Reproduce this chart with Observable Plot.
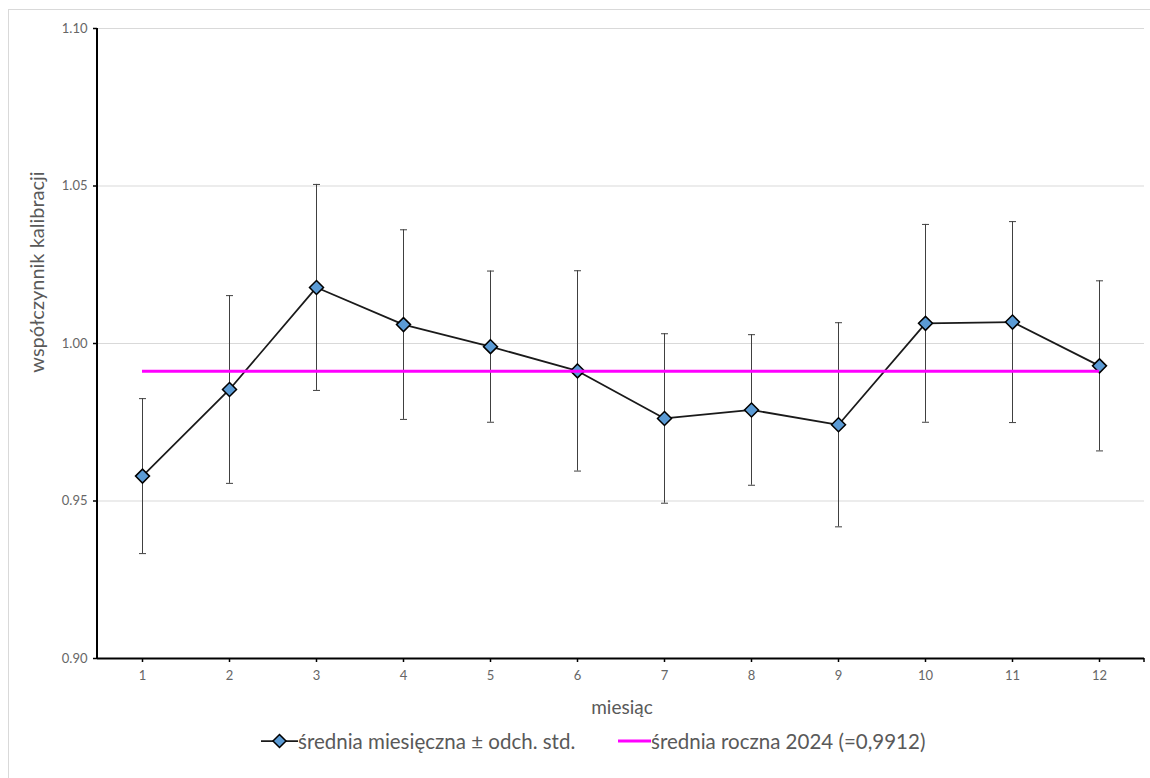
<!DOCTYPE html>
<html>
<head>
<meta charset="utf-8">
<script src="https://cdn.jsdelivr.net/npm/d3@7"></script>
<script src="https://cdn.jsdelivr.net/npm/@observablehq/plot@0.6"></script>
<style>
  html, body { margin: 0; padding: 0; background: #fff; overflow: hidden; width: 1150px; height: 778px; }
  #page { position: relative; width: 1150px; height: 778px; font-family: Lato, "Open Sans", sans-serif; color: #595959; }
  #border { position: absolute; left: 8px; top: 9px; width: 1200px; height: 800px; border: 1px solid #d9d9d9; box-sizing: border-box; }
  #chart { position: absolute; left: 0; top: 0; }
  #ytitle { position: absolute; left: 36px; top: 272px; transform: translate(-50%, -50%) rotate(-90deg); font-size: 20px; white-space: nowrap; }
  #xtitle { position: absolute; left: 622px; top: 706px; transform: translate(-50%, -50%); font-size: 19px; white-space: nowrap; }
  .item { position: absolute; top: 741px; transform: translateY(-50%); display: flex; align-items: center; font-size: 20.5px; white-space: nowrap; }
  .item svg { display: block; }
</style>
</head>
<body>
<div id="page">
  <div id="border"></div>
  <div id="chart"></div>
  <div id="ytitle"></div>
  <div id="xtitle"></div>
  <div id="legend"></div>
</div>
<script>
// ---- data ----
const months = [1, 2, 3, 4, 5, 6, 7, 8, 9, 10, 11, 12];
const monthlyMean = [0.9579, 0.9854, 1.0178, 1.0060, 0.9990, 0.9913, 0.9762, 0.9789, 0.9742, 1.0064, 1.0068, 0.9929];
const monthlySd   = [0.0246, 0.0298, 0.0327, 0.0301, 0.0240, 0.0318, 0.0269, 0.0239, 0.0324, 0.0314, 0.0319, 0.0270];
const annualMean = 0.9912;
const yTicks = [0.90, 0.95, 1.00, 1.05, 1.10];
const yTitle = "współczynnik kalibracji";
const xTitle = "miesiąc";
const seriesName = "średnia miesięczna ± odch. std.";
const annualName = "średnia roczna 2024 (=0,9912)";

const rows = months.map((m, i) => ({m, mean: monthlyMean[i], sd: monthlySd[i]}));

const capSymbol = {
  draw(ctx, size) {
    const w = Math.sqrt(size / Math.PI);
    ctx.moveTo(-w, 0);
    ctx.lineTo(w, 0);
  }
};

const chart = Plot.plot({
  width: 1150,
  height: 720,
  marginTop: 28,
  marginLeft: 97,
  marginRight: 6,
  marginBottom: 62,
  style: {fontFamily: "Lato, 'Open Sans', sans-serif", fontSize: "13px", background: "transparent", overflow: "visible"},
  x: {type: "point", domain: months, padding: 0.5, label: null},
  y: {domain: [0.90, 1.10], label: null},
  marks: [
    Plot.gridY(yTicks.slice(1), {stroke: "#d9d9d9", strokeOpacity: 1, strokeWidth: 1}),
    Plot.axisY(yTicks, {tickFormat: d3.format(".2f"), tickSize: 4, tickPadding: 6, stroke: "black", strokeWidth: 1.5, fill: "#666666", fontSize: 13, label: null}),
    Plot.axisX(months, {tickSize: 4, tickPadding: 8, stroke: "black", strokeWidth: 1.5, fill: "#666666", fontSize: 13, label: null}),
    Plot.ruleY([yTicks[0]], {stroke: "black", strokeWidth: 2}),
    Plot.ruleX(rows, {x: "m", y1: d => d.mean - d.sd, y2: d => d.mean + d.sd, stroke: "#404040", strokeWidth: 1}),
    Plot.dot(rows, {x: "m", y: d => d.mean + d.sd, symbol: capSymbol, r: 3.5, stroke: "#404040", strokeWidth: 1, fill: "none"}),
    Plot.dot(rows, {x: "m", y: d => d.mean - d.sd, symbol: capSymbol, r: 3.5, stroke: "#404040", strokeWidth: 1, fill: "none"}),
    Plot.line(rows, {x: "m", y: "mean", stroke: "#1a1a1a", strokeWidth: 1.75}),
    Plot.dot(rows, {x: "m", y: "mean", symbol: "diamond2", r: 6.3, fill: "#5b9bd5", stroke: "black", strokeWidth: 1.5}),
    Plot.ruleY([annualMean], {x1: months[0], x2: months[months.length - 1], stroke: "#ff00ff", strokeWidth: 3})
  ]
});

// y axis line and end tick, positioned from the library's scales
const xs = chart.scale("x"), ys = chart.scale("y");
const sel = d3.select(chart);
sel.append("line")
  .attr("x1", xs.range[0]).attr("x2", xs.range[0])
  .attr("y1", ys.range[0] + 1).attr("y2", ys.range[1])
  .attr("stroke", "black").attr("stroke-width", 2);
sel.append("line")
  .attr("x1", xs.range[1]).attr("x2", xs.range[1])
  .attr("y1", ys.range[0]).attr("y2", ys.range[0] + 4)
  .attr("stroke", "black").attr("stroke-width", 1.5);

document.getElementById("chart").appendChild(chart);
document.getElementById("ytitle").textContent = yTitle;
document.getElementById("xtitle").textContent = xTitle;

const legend = document.getElementById("legend");
legend.innerHTML = `
  <div class="item" style="left:261px">
    <svg width="37" height="16"><line x1="0" x2="37" y1="8" y2="8" stroke="#1a1a1a" stroke-width="1.75"/>
      <path d="M18.5,1.5L25,8L18.5,14.5L12,8Z" fill="#5b9bd5" stroke="black" stroke-width="1.5"/></svg>
    <span>${seriesName}</span>
  </div>
  <div class="item" style="left:618px">
    <svg width="33" height="16"><line x1="0" x2="33" y1="8" y2="8" stroke="#ff00ff" stroke-width="3"/></svg>
    <span>${annualName}</span>
  </div>`;
</script>
</body>
</html>
